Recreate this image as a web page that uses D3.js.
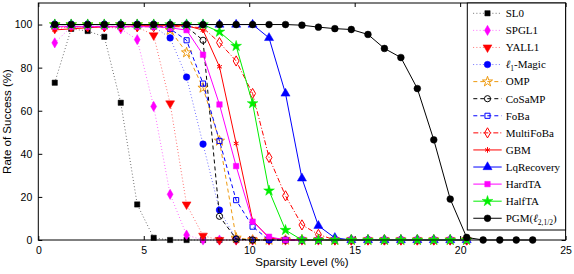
<!DOCTYPE html>
<html>
<head>
<meta charset="utf-8">
<script src="https://cdn.jsdelivr.net/npm/d3@7"></script>
<style>
body { margin: 0; background: #fff; }
text { font-family: "Liberation Sans", Arial, sans-serif; }
.leg text { font-family: "Liberation Serif", "DejaVu Serif", serif; }
</style>
</head>
<body>
<div class="container"></div>
<script>
// sparsity levels (%), one point per 2 of 256
var sparsity = [0.78,1.56,2.34,3.13,3.91,4.69,5.47,6.25,7.03,7.81,8.59,9.38,10.16,10.94,11.72,
  12.5,13.28,14.06,14.84,15.63,16.41,17.19,17.97,18.75,19.53,20.31,21.09,21.88,22.66,23.44];

var sl0       = [73,98,97,94.3,63.7,16.5,1,0,0,0,0,0,0,0,0,0,0,0,0,0,0,0,0,0,0,0];
var spgl1     = [91.5,99,99,99,98,93,62,21.2,2.3,0,0,0,0,0,0,0,0,0,0,0,0,0,0,0,0,0];
var yall1     = [98,99,99,99,99,99,95,63.4,16.5,2,0,0,0,0,0,0,0,0,0,0,0,0,0,0,0,0];
var l1magic   = [100,100,100,100,100,100,99,93.8,75.6,44.5,13.9,0.5,0,0,0,0,0,0,0,0,0,0,0,0,0,0];
var omp       = [100,100,100,100,100,100,100,97.4,87,70.6,46,1,0,0,0,0,0,0,0,0,0,0,0,0,0,0];
var cosamp    = [100,100,100,100,100,100,100,100,99,92.7,11,0.5,0,0,0,0,0,0,0,0,0,0,0,0,0,0];
var foba      = [100,100,100,100,100,100,100,98,92.7,72.6,46,18.5,6.2,0,0,0,0,0,0,0,0,0,0,0,0,0];
var multifoba = [99,99,99,99,99,99,99,99,99,98.5,91.6,83.1,68,38.3,20.5,7,2.6,0,0,0,0,0,0,0,0,0];
var gbm       = [97.5,98,98.5,99,99,99.5,99.5,99.5,99.5,97.4,80.4,44.8,9,1,0,0,0,0,0,0,0,0,0,0,0,0];
var lqrec     = [100,100,100,100,100,100,100,100,100,100,100,100,100,93.8,68,28.6,6.6,1,0,0,0,0,0,0,0,0];
var hardta    = [99,99,99,99,99,99,99,98.5,97.4,86,62.9,34.3,8.5,1.5,0,0,0,0,0,0,0,0,0,0,0,0];
var halfta    = [100,100,100,100,100,100,100,100,100,100,96.6,90,63.4,22.9,4.6,0,0,0,0,0,0,0,0,0,0,0];
var pgm       = [100,100,100,100,100,100,100,100,100,100,100,100,100,100,100,99.7,98.8,98.1,97.7,95.4,
  88.9,84.7,70.3,46.5,19,1.2,0,0,0,0];

var xTicks = [0,5,10,15,20,25];
var yTicks = [0,20,40,60,80,100];

const WIDTH = 574;
const HEIGHT = 274;
const LEFT = 38.3, TOP = 3, RIGHT = 565.6, BOTTOM = 240;

var translate = function(x, y){
  return "translate(" + x + "," + y + ")";
};

var _xScale = d3.scaleLinear().domain([0,25]).range([LEFT, RIGHT]);
var _yScale = d3.scaleLinear().domain([0,110]).range([BOTTOM, TOP]);

var DOT = "0.8,2.4", DASH = "4,3", DASHDOT = "5,2,1,2";

var series = [
  {label: [["SL0"]], data: sl0, color: "#000", dash: DOT, sym: d3.symbolSquare, size: 28, fill: true, w: 0.7},
  {label: [["SPGL1"]], data: spgl1, color: "#ff00ff", dash: DOT, sym: d3.symbolDiamond, size: 30, fill: true, w: 0.7},
  {label: [["YALL1"]], data: yall1, color: "#ff0000", dash: DOT, sym: d3.symbolTriangle, size: 34, fill: true, rot: 180, w: 0.7},
  {label: [["ℓ", "it"], ["1", "sub"], ["-Magic"]], data: l1magic, color: "#0000ff", dash: DOT, sym: d3.symbolCircle, size: 34, fill: true, w: 0.7},
  {label: [["OMP"]], data: omp, color: "#ee9a10", dash: DASH, sym: d3.symbolStar, size: 32, fill: false, w: 1},
  {label: [["CoSaMP"]], data: cosamp, color: "#000", dash: DASH, sym: d3.symbolCircle, size: 30, fill: false, w: 1},
  {label: [["FoBa"]], data: foba, color: "#0000ff", dash: DASH, sym: d3.symbolSquare, size: 26, fill: false, w: 1},
  {label: [["MultiFoBa"]], data: multifoba, color: "#ff0000", dash: DASHDOT, sym: d3.symbolDiamond, size: 30, fill: false, w: 1},
  {label: [["GBM"]], data: gbm, color: "#ff0000", dash: null, sym: d3.symbolAsterisk, size: 22, fill: false, w: 1},
  {label: [["LqRecovery"]], data: lqrec, color: "#0000ff", dash: null, sym: d3.symbolTriangle, size: 36, fill: true, w: 1},
  {label: [["HardTA"]], data: hardta, color: "#ff00ff", dash: null, sym: d3.symbolSquare, size: 30, fill: true, w: 1},
  {label: [["HalfTA"]], data: halfta, color: "#00ee00", dash: null, sym: d3.symbolStar, size: 36, fill: true, w: 1},
  {label: [["PGM("], ["ℓ", "it"], ["2,1/2", "sub"], [")"]], data: pgm, color: "#000", dash: null, sym: d3.symbolCircle, size: 36, fill: true, w: 1}
];

var line = d3.line()
  .x(function(d, i){ return _xScale(sparsity[i]); })
  .y(function(d){ return _yScale(d); });

var drawMarker = function(g, s, x, y){
  g.append("path")
    .attr("d", d3.symbol().type(s.sym).size(s.size)())
    .attr("transform", translate(x, y) + (s.rot ? " rotate(" + s.rot + ")" : ""))
    .attr("fill", s.fill ? s.color : "none")
    .attr("stroke", s.color)
    .attr("stroke-width", s.fill ? 0.5 : 1);
};

var loadChart = function(){
  var svg = d3.select(".container").append("svg")
    .attr("width", WIDTH)
    .attr("height", HEIGHT)
    .style("display", "block");

  // axes, ticks inside, MATLAB box
  svg.append("g")
    .attr("transform", translate(0, BOTTOM))
    .call(d3.axisBottom(_xScale).tickValues(xTicks).tickSizeInner(-4).tickSizeOuter(0).tickPadding(7))
    .call(function(g){ g.select(".domain").remove(); });
  svg.append("g")
    .attr("transform", translate(0, TOP))
    .call(d3.axisTop(_xScale).tickValues(xTicks).tickSizeInner(-4).tickSizeOuter(0).tickFormat(""))
    .call(function(g){ g.select(".domain").remove(); });
  svg.append("g")
    .attr("transform", translate(LEFT, 0))
    .call(d3.axisLeft(_yScale).tickValues(yTicks).tickSizeInner(-4).tickSizeOuter(0).tickPadding(6))
    .call(function(g){ g.select(".domain").remove(); });
  svg.append("g")
    .attr("transform", translate(RIGHT, 0))
    .call(d3.axisRight(_yScale).tickValues(yTicks).tickSizeInner(-4).tickSizeOuter(0).tickFormat(""))
    .call(function(g){ g.select(".domain").remove(); });
  svg.selectAll(".tick text").attr("font-size", 10.5).attr("fill", "#000")
    .attr("font-family", "Liberation Sans, Arial, sans-serif");
  svg.selectAll(".tick line").attr("stroke", "#000");

  var plot = svg.append("g");
  series.forEach(function(s){
    var g = plot.append("g");
    g.append("path").datum(s.data)
      .attr("d", line)
      .attr("fill", "none")
      .attr("stroke", s.color)
      .attr("stroke-width", s.w)
      .attr("stroke-dasharray", s.dash);
    s.data.forEach(function(v, i){
      drawMarker(g, s, _xScale(sparsity[i]), _yScale(v));
    });
  });

  svg.append("rect")
    .attr("x", LEFT).attr("y", TOP)
    .attr("width", RIGHT - LEFT).attr("height", BOTTOM - TOP)
    .attr("fill", "none").attr("stroke", "#000").attr("stroke-width", 1);

  // legend
  var leg = svg.append("g").attr("class", "leg");
  leg.append("rect")
    .attr("x", 467.3).attr("y", TOP)
    .attr("width", RIGHT - 467.3).attr("height", 230 - TOP)
    .attr("fill", "#fff").attr("stroke", "#000").attr("stroke-width", 1);
  series.forEach(function(s, k){
    var y = 13.3 + k * 17.08;
    leg.append("line")
      .attr("x1", 473.3).attr("x2", 501.7).attr("y1", y).attr("y2", y)
      .attr("stroke", s.color).attr("stroke-width", s.w)
      .attr("stroke-dasharray", s.dash);
    drawMarker(leg, s, 487.5, y);
    var t = leg.append("text")
      .attr("x", 505.7).attr("y", y + 3.8)
      .attr("font-size", 11).attr("fill", "#000");
    var inSub = false;
    s.label.forEach(function(p){
      var ts = t.append("tspan").text(p[0]);
      if (p[1] === "it") ts.attr("font-style", "italic");
      if (p[1] === "sub") { ts.attr("font-size", 7.5).attr("dy", 2.5); inSub = true; }
      else if (inSub) { ts.attr("dy", -2.5); inSub = false; }
    });
  });

  svg.append("text")
    .attr("x", (LEFT + RIGHT) / 2).attr("y", 266)
    .attr("text-anchor", "middle").attr("font-size", 11.5)
    .text("Sparsity Level (%)");
  svg.append("text")
    .attr("transform", translate(10.5, (TOP + BOTTOM) / 2) + " rotate(-90)")
    .attr("text-anchor", "middle").attr("font-size", 11.5)
    .text("Rate of Success (%)");
};

window.onload = loadChart;
</script>
</body>
</html>
